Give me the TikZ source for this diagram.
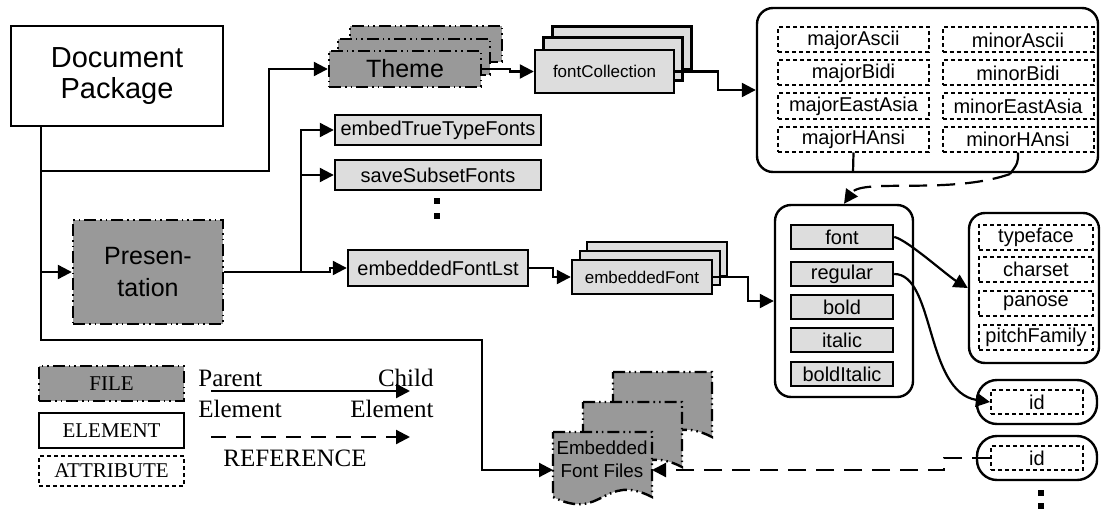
\documentclass[tikz,border=0pt]{standalone}
\usepackage{fontspec}
\setmainfont{Liberation Sans}
\newfontfamily\legendfont{Liberation Serif}
\usetikzlibrary{arrows.meta}

\definecolor{filegray}{HTML}{999999}
\definecolor{elemgray}{HTML}{DDDDDD}

\newcommand\fbig{\fontsize{14.5}{15.5}\selectfont}
\newcommand\fmid{\fontsize{12.5}{16}\selectfont}
\newcommand\fsmall{\fontsize{10}{12}\selectfont}
\newcommand\ftiny{\fontsize{8.5}{11.5}\selectfont}
\newcommand\flegend{\legendfont\fontsize{12.5}{14}\selectfont}

\tikzset{
  filebox/.style={draw, fill=filegray, line width=1.2pt,
    dash pattern=on 6pt off 2pt on 0.8pt off 2pt on 0.8pt off 2pt, inner sep=0pt},
  elembox/.style={draw, fill=elemgray, line width=1.2pt, inner sep=0pt},
  plainbox/.style={draw, fill=white, line width=1.2pt, inner sep=0pt},
  attrbox/.style={draw, fill=white, line width=1pt, dash pattern=on 2pt off 1.5pt,
    inner sep=0pt, minimum height=12.5pt},
  grpbox/.style={draw, line width=1.2pt, rounded corners=8pt, inner sep=0pt},
  link/.style={line width=1.1pt, -{Triangle[length=7pt,width=7pt]}},
  refl/.style={link, dash pattern=on 9pt off 5pt},
  dotsq/.style={fill, minimum size=2.6pt, inner sep=0pt},
  docpage/.pic={\draw[filebox] (0,0) -- (99,0) -- (99,65)
    .. controls (50,40) and (50,90) .. (0,65) -- cycle;},
}

\begin{document}
\begin{tikzpicture}[x=0.5pt, y=-0.5pt]
  \useasboundingbox (0,0) rectangle (1101,508);

  % document package and presentation part
  \node[plainbox, minimum width=106pt, minimum height=50pt, align=center, font=\fbig]
    (docpkg) at (117,76) {Document\\Package};
  \node[filebox, minimum width=75pt, minimum height=52pt, align=center, font=\fmid]
    (pres) at (148,272) {Presen-\\tation};

  % theme (stacked)
  \node[filebox, minimum width=76pt, minimum height=18pt] (theme3) at (426,44) {};
  \node[filebox, minimum width=76pt, minimum height=18pt] (theme2) at (414,57) {};
  \node[filebox, minimum width=76pt, minimum height=18pt, font=\fmid] (theme) at (405,69) {Theme};

  % font collection (stacked)
  \node[elembox, minimum width=69.5pt, minimum height=21.5pt] (fcoll3) at (622,48) {};
  \node[elembox, minimum width=69.5pt, minimum height=21.5pt] (fcoll2) at (613,59) {};
  \node[elembox, minimum width=69.5pt, minimum height=21.5pt, font=\ftiny] (fcoll) at (604.5,71.5) {fontCollection};

  % major / minor attributes
  \node[grpbox, minimum width=170.5pt, minimum height=82pt] (mmgrp) at (927.5,90) {};
  \foreach \nm/\y [count=\i] in {Ascii/40, Bidi/73, EastAsia/106, HAnsi/139}{
    \node[attrbox, minimum width=75.5pt, font=\fsmall] (maj\i) at (853.5,\y) {major\nm};
    \node[attrbox, minimum width=75.5pt, font=\fsmall] (min\i) at (1018,\y) {minor\nm};
  }

  % presentation children
  \node[elembox, minimum width=103pt, minimum height=15pt, font=\fsmall] (embttf) at (438,130) {embedTrueTypeFonts};
  \node[elembox, minimum width=103pt, minimum height=15pt, font=\fsmall] (savesub) at (438,175) {saveSubsetFonts};
  \node[dotsq] (pdot1) at (437,201) {};
  \node[dotsq] (pdot2) at (437,216) {};
  \node[elembox, minimum width=90pt, minimum height=18pt, font=\fsmall] (eflst) at (438,268) {embeddedFontLst};

  % embedded font (stacked)
  \node[elembox, minimum width=70pt, minimum height=17pt] (efont3) at (657,259) {};
  \node[elembox, minimum width=70pt, minimum height=17pt] (efont2) at (650,268) {};
  \node[elembox, minimum width=70pt, minimum height=17pt, font=\ftiny] (efont) at (642,277) {embeddedFont};

  % font variants
  \node[grpbox, minimum width=69pt, minimum height=96pt] (fvgrp) at (844,301) {};
  \foreach \nm/\y in {font/237, regular/274, bold/307, italic/340, boldItalic/374}
    \node[elembox, minimum width=51pt, minimum height=12pt, font=\fsmall] (\nm) at (842,\y) {\nm};

  % font attributes
  \node[grpbox, minimum width=65pt, minimum height=75pt] (fagrp) at (1034,288) {};
  \foreach \nm/\y in {typeface/237.5, charset/269.5, panose/303, pitchFamily/337}
    \node[attrbox, minimum width=57pt, font=\fsmall] (\nm) at (1036,\y) {\nm};

  % id attributes
  \node[grpbox, rounded corners=10pt, minimum width=60pt, minimum height=22pt] (idgrp1) at (1037,402) {};
  \node[attrbox, minimum width=46pt, minimum height=12pt, font=\fsmall] (id1) at (1037,402) {id};
  \node[grpbox, rounded corners=10pt, minimum width=60pt, minimum height=22pt] (idgrp2) at (1037,458) {};
  \node[attrbox, minimum width=46pt, minimum height=12pt, font=\fsmall] (id2) at (1037,458) {id};
  \node[dotsq] (idot1) at (1041,493) {};
  \node[dotsq] (idot2) at (1041,506) {};

  % embedded font files
  \pic at (613,372) {docpage};
  \pic at (583,402) {docpage};
  \pic at (553,432) {docpage};
  \node[align=center, font=\fontsize{9.4}{11.5}\selectfont] (effiles) at (602,459) {Embedded\\Font Files};
  \coordinate (effw) at (553,470);
  \coordinate (effe) at (652,470);

  % connectors
  \coordinate (dtrunk) at (41,126);
  \coordinate (pjoint) at (301,272);
  \draw[link] (dtrunk) |- (269,171) |- (theme.west);
  \draw[link] (dtrunk) |- (pres.west);
  \draw[link] (dtrunk) |- (482,340) |- (effw);
  \draw[link] (theme.east) -- (510,69) |- (fcoll.west);
  \draw[link] (fcoll.east) -- (718,71.5) |- (mmgrp.west);
  \draw[line width=1.1pt] (pres.east) -- (pjoint);
  \draw[link] (pjoint) |- (embttf.west);
  \draw[link] (pjoint) |- (savesub.west);
  \draw[link] (pjoint) -- (330,272) |- (eflst.west);
  \draw[link] (eflst.east) -- (553,268) |- (efont.west);
  \draw[link] (efont.east) -- (748,277) |- (fvgrp.west);
  \draw[link] (font.east) .. controls +(12,2) and +(-20,-12) .. (fagrp.west);
  \draw[link] (regular.east) .. controls (935,274) and (925,392) .. (id1.west);

  % references
  \coordinate (hansiout) at (1010,174);
  \draw[line width=1.1pt] (maj4.south) -- (853,172);
  \draw[line width=1.1pt] (min4.south) .. controls (1018,163) .. (hansiout);
  \draw[refl] (hansiout) .. controls (950,195) and (862,178) .. (fvgrp.north);
  \draw[refl] (id2.west) -- (944,458) |- (effe);

  % legend
  \node[filebox, minimum width=72.5pt, minimum height=17.5pt, font=\legendfont\fontsize{10.5}{12}\selectfont]
    (lgfile) at (111.5,383.5) {FILE};
  \node[plainbox, minimum width=72.5pt, minimum height=17.5pt, font=\legendfont\fontsize{10.5}{12}\selectfont]
    (lgelem) at (111.5,430.5) {ELEMENT};
  \node[attrbox, minimum width=72.5pt, minimum height=15pt, font=\legendfont\fontsize{10.5}{12}\selectfont]
    (lgattr) at (111.5,471) {ATTRIBUTE};
  \node[anchor=west, inner sep=0pt, font=\flegend] (lgparent) at (198,378) {Parent};
  \node[anchor=east, inner sep=0pt, font=\flegend] (lgchild) at (434,378) {Child};
  \node[anchor=west, inner sep=0pt, font=\flegend] (lgpel) at (198,409) {Element};
  \node[anchor=east, inner sep=0pt, font=\flegend] (lgcel) at (434,409) {Element};
  \coordinate (lgsa) at (211,391);
  \coordinate (lgsb) at (410,391);
  \coordinate (lgda) at (211,437);
  \coordinate (lgdb) at (410,437);
  \draw[link] (lgsa) -- (lgsb);
  \draw[refl, dash pattern=on 7.5pt off 5pt] (lgda) -- (lgdb);
  \node[inner sep=0pt, font=\flegend] (lgref) at (295,458) {REFERENCE};
\end{tikzpicture}
\end{document}
